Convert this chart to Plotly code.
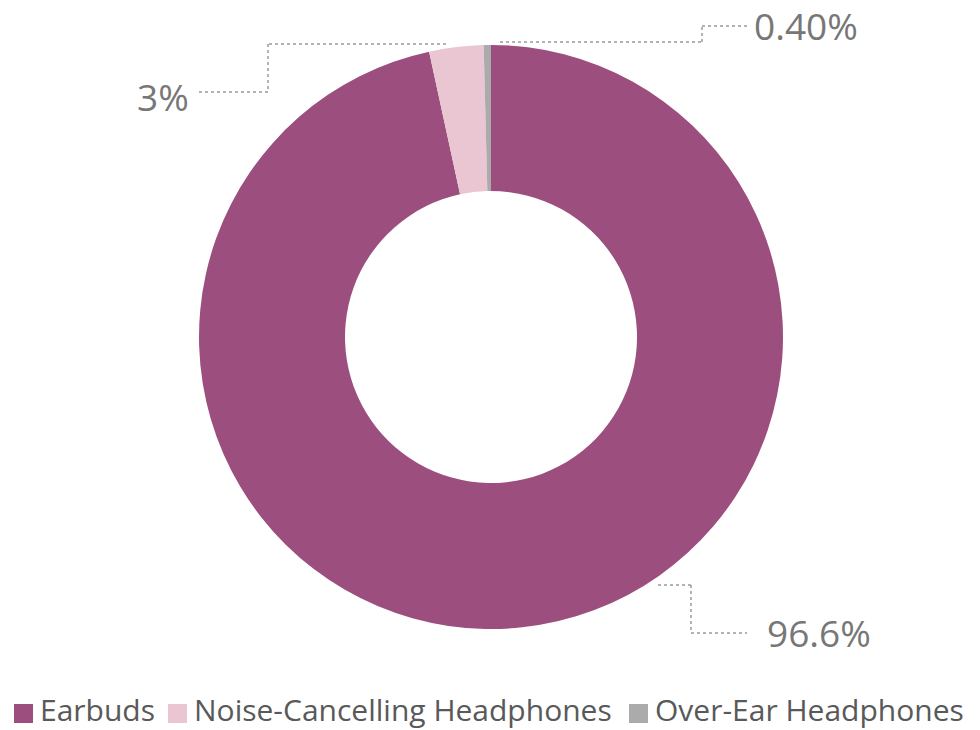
import plotly.graph_objects as go

# ---- data ----
categories = ["Earbuds", "Noise-Cancelling Headphones", "Over-Ear Headphones"]
shares = [96.6, 3.0, 0.4]
share_labels = ["96.6%", "3%", "0.40%"]
colors = ["#9C4F7E", "#E9C6D1", "#ABABAB"]

W, H = 980, 730
FONT = "Open Sans"

# pie geometry in pixels
cx, cy, R = 491, 337, 292

def px(x):
    return x / W

def py(y):
    return 1 - y / H

fig = go.Figure()
fig.add_trace(go.Pie(
    labels=categories,
    values=shares,
    sort=False,
    direction="clockwise",
    rotation=0,
    hole=0.5,
    marker=dict(colors=colors, line=dict(width=0)),
    textinfo="none",
    hoverinfo="label+percent",
    showlegend=False,
    domain=dict(x=[px(cx - R), px(cx + R)], y=[py(cy + R), py(cy - R)]),
))

# leader-line paths (pixel positions) and label anchors
leaders = [
    dict(path=[(658, 585), (691, 585), (691, 633), (747, 633)], tx=766, ty=632, anchor="left"),
    dict(path=[(446, 44), (268, 44), (268, 92), (197, 92)], tx=190, ty=96, anchor="right"),
    dict(path=[(500, 42), (702, 42), (702, 26), (750, 26)], tx=753, ty=25, anchor="left"),
]

shapes = []
annotations = []
for lab, ld in zip(share_labels, leaders):
    pts = ld["path"]
    for (x0, y0), (x1, y1) in zip(pts[:-1], pts[1:]):
        shapes.append(dict(type="line", xref="paper", yref="paper",
                           x0=px(x0), y0=py(y0), x1=px(x1), y1=py(y1),
                           line=dict(color="#9A9A9A", width=1.5, dash="dot")))
    annotations.append(dict(x=px(ld["tx"]), y=py(ld["ty"]), xref="paper", yref="paper",
                            text=lab, showarrow=False, xanchor=ld["anchor"], yanchor="middle",
                            borderpad=0,
                            font=dict(family=FONT, size=37, color="#777777")))

# custom legend at bottom
legend_x = [14, 168, 629]
for name, col, lx in zip(categories, colors, legend_x):
    shapes.append(dict(type="rect", xref="paper", yref="paper",
                       x0=px(lx), x1=px(lx + 19), y0=py(723), y1=py(704),
                       fillcolor=col, line=dict(width=0)))
    annotations.append(dict(x=px(lx + 25), y=py(709.5), xref="paper", yref="paper",
                            text=name, showarrow=False, xanchor="left", yanchor="middle",
                            borderpad=0,
                            font=dict(family=FONT, size=30, color="#595959")))

fig.update_layout(
    width=W, height=H,
    margin=dict(l=0, r=0, t=0, b=0),
    paper_bgcolor="white",
    plot_bgcolor="white",
    shapes=shapes,
    annotations=annotations,
)

fig.write_html("out.html",
               config=dict(displayModeBar=False),
               post_script="document.body.style.margin='0';document.body.style.overflow='hidden';")
